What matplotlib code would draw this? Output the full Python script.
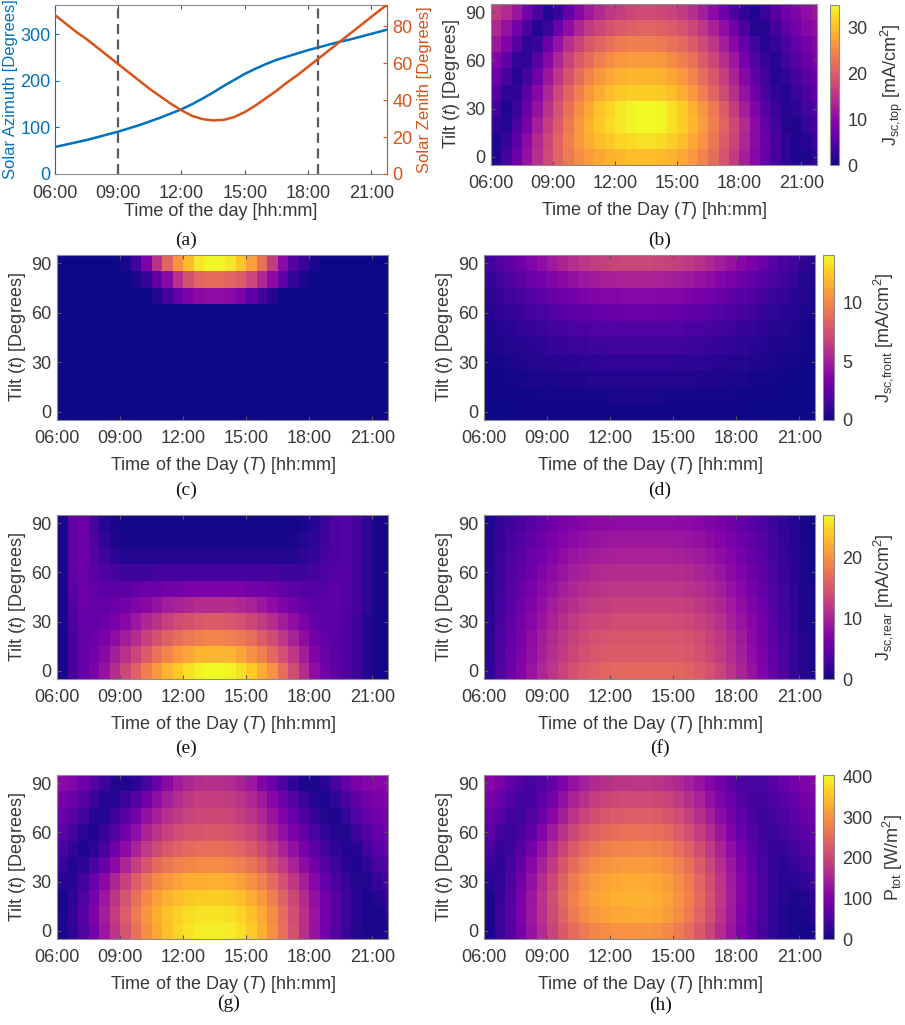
import numpy as np
import matplotlib
matplotlib.use("Agg")
import matplotlib.pyplot as plt

plt.rcParams['font.family'] = ['Liberation Sans', 'DejaVu Sans']
plt.rcParams['mathtext.fontset'] = 'custom'
plt.rcParams['mathtext.rm'] = 'Liberation Sans'
plt.rcParams['mathtext.it'] = 'Liberation Sans:italic'
plt.rcParams['mathtext.bf'] = 'Liberation Sans:bold'

# ---- panel (a): sun position ----
sun_hours = [6.0, 6.5, 7.0, 7.5, 8.0, 8.5, 9.0, 9.5, 10.0, 10.5, 11.0, 11.5,
             12.0, 12.5, 13.0, 13.5, 14.0, 14.5, 15.0, 15.5, 16.0, 16.5, 17.0,
             17.5, 18.0, 18.5, 19.0, 19.5, 20.0, 20.5, 21.0, 21.5, 21.75]
solar_azimuth = [58, 63, 68, 73, 79, 85, 91, 98, 105, 113, 121, 130, 139, 150,
                 162, 175, 189, 202, 215, 226, 236, 245, 252, 259, 266, 272,
                 278, 284, 289, 295, 301, 307, 310]
solar_zenith = [86, 81.5, 77, 73, 68.5, 64, 59.5, 55, 50.5, 46, 42, 38, 34.5,
                31.5, 29.7, 29, 29.3, 30.8, 33.5, 37, 41, 45, 49.5, 53.5, 58,
                62.5, 67, 71.5, 76, 80.5, 85, 89.5, 91.5]
marker_hours = [9.0, 18.47]

# ---- heat maps: 30 min columns, 10 degree tilt rows ----
time_centres = [6.25, 6.75, 7.25, 7.75, 8.25, 8.75, 9.25, 9.75, 10.25, 10.75,
                11.25, 11.75, 12.25, 12.75, 13.25, 13.75, 14.25, 14.75, 15.25,
                15.75, 16.25, 16.75, 17.25, 17.75, 18.25, 18.75, 19.25, 19.75,
                20.25, 20.75, 21.25, 21.75]
tilt_angles = [0, 10, 20, 30, 40, 50, 60, 70, 80, 90]
hour_ticks = [6, 9, 12, 15, 18, 21]
hour_labels = ['06:00', '09:00', '12:00', '15:00', '18:00', '21:00']
tilt_ticks = [0, 30, 60, 90]

jsc_top = [
    [1, 3.5, 7, 11, 14.5, 18, 21, 23.5, 25.5, 27, 28, 29, 29.5, 30, 30, 30, 29.5, 29, 28, 26.5, 24.5, 22, 19, 16, 12.5, 9.5, 6.5, 4, 2, 1, 1, 2],
    [1, 2.5, 6, 10, 14, 17.5, 21, 24, 26.5, 28.5, 30, 31, 32, 32.5, 33, 33, 32.5, 31.5, 30, 28, 26, 23, 20, 17, 13.5, 10, 7, 4, 2, 1, 1.5, 3],
    [2, 1.5, 4.5, 8.5, 12.5, 16.5, 20, 23.5, 26.5, 29, 31, 32.5, 33.5, 34.5, 35, 35, 34.5, 33, 31.5, 29.5, 27, 24, 21, 17.5, 14, 10, 6.5, 3.5, 1.5, 1, 2.5, 4],
    [3.5, 1, 3, 7, 11, 15, 19, 22.5, 25.5, 28, 30.5, 32, 33.5, 34.5, 35, 35, 34.5, 33, 31.5, 29, 26.5, 23.5, 20, 16.5, 12.5, 9, 5.5, 3, 1.5, 2, 3.5, 5],
    [5, 2, 2, 5.5, 9.5, 13.5, 17.5, 21, 24, 26.5, 28.5, 30, 31, 31.5, 31.5, 31.5, 31, 30, 28.5, 26.5, 24, 21, 18, 14.5, 11, 7.5, 4.5, 2, 1.5, 3, 4.5, 6],
    [7, 4, 1.5, 3.5, 7.5, 11.5, 15.5, 19, 22, 24.5, 26.5, 28, 29, 29.5, 29.5, 29.5, 29, 28, 26.5, 24.5, 22, 19.5, 16.5, 13, 9.5, 6, 3.5, 1.5, 2, 4, 5.5, 7],
    [9, 6, 2.5, 2, 5.5, 9.5, 13.5, 17, 20, 22, 24, 25.5, 26.5, 27, 27, 27, 26.5, 25.5, 24, 22.5, 20, 17.5, 14.5, 11.5, 8, 5, 2.5, 1.5, 3.5, 5.5, 7, 8.5],
    [11.5, 9, 5.5, 2, 3, 7, 11, 14.5, 17, 19.5, 21, 22.5, 23.5, 24, 24, 24, 23.5, 22.5, 21.5, 20, 18, 15.5, 12.5, 9.5, 6.5, 3.5, 1.5, 2.5, 4.5, 6.5, 8, 9.5],
    [13.5, 11, 8, 4.5, 1.5, 3, 7, 10.5, 13.5, 16, 17.5, 19, 20, 20.5, 21, 21, 20.5, 20, 19, 17.5, 15.5, 13, 10.5, 7.5, 4.5, 1.5, 1.5, 4, 6, 8, 9.5, 10.5],
    [16, 14, 11.5, 8, 4.5, 1.5, 3, 6.5, 9.5, 12, 14, 15.5, 16.5, 17.5, 18, 18, 17.5, 17, 16, 14.5, 12.5, 10, 7.5, 4.5, 2, 1, 3, 5.5, 7.5, 9, 10.5, 11.5],
]

jsc_front_c = [
    [0, 0, 0, 0, 0, 0, 0, 0, 0, 0, 0, 0, 0, 0, 0, 0, 0, 0, 0, 0, 0, 0, 0, 0, 0, 0, 0, 0, 0, 0, 0, 0],
    [0, 0, 0, 0, 0, 0, 0, 0, 0, 0, 0, 0, 0, 0, 0, 0, 0, 0, 0, 0, 0, 0, 0, 0, 0, 0, 0, 0, 0, 0, 0, 0],
    [0, 0, 0, 0, 0, 0, 0, 0, 0, 0, 0, 0, 0, 0, 0, 0, 0, 0, 0, 0, 0, 0, 0, 0, 0, 0, 0, 0, 0, 0, 0, 0],
    [0, 0, 0, 0, 0, 0, 0, 0, 0, 0, 0, 0, 0, 0, 0, 0, 0, 0, 0, 0, 0, 0, 0, 0, 0, 0, 0, 0, 0, 0, 0, 0],
    [0, 0, 0, 0, 0, 0, 0, 0, 0, 0, 0, 0, 0, 0, 0, 0, 0, 0, 0, 0, 0, 0, 0, 0, 0, 0, 0, 0, 0, 0, 0, 0],
    [0, 0, 0, 0, 0, 0, 0, 0, 0, 0, 0, 0, 0, 0, 0, 0, 0, 0, 0, 0, 0, 0, 0, 0, 0, 0, 0, 0, 0, 0, 0, 0],
    [0, 0, 0, 0, 0, 0, 0, 0, 0, 0, 0, 0, 0, 0, 0, 0, 0, 0, 0, 0, 0, 0, 0, 0, 0, 0, 0, 0, 0, 0, 0, 0],
    [0, 0, 0, 0, 0, 0, 0, 0, 0, 0.5, 1.5, 2.5, 3.5, 4, 4.2, 4.2, 4, 3.5, 2.5, 1.5, 0.5, 0, 0, 0, 0, 0, 0, 0, 0, 0, 0, 0],
    [0, 0, 0, 0, 0, 0, 0, 0.3, 1, 2.5, 4, 6, 7.5, 8.5, 8.8, 8.8, 8.5, 8, 7, 5.5, 4, 2.5, 1, 0.3, 0, 0, 0, 0, 0, 0, 0, 0],
    [0, 0, 0, 0, 0, 0, 0.3, 1.5, 3.5, 6, 8.5, 10.5, 12, 13.5, 14, 14, 13.5, 12.5, 11, 9, 6.5, 4, 2, 1, 0.3, 0, 0, 0, 0, 0, 0, 0],
]

jsc_front_d = [
    [0, 0, 0, 0.1, 0.1, 0.1, 0.1, 0.1, 0.1, 0.1, 0.1, 0.1, 0.1, 0.1, 0.1, 0.1, 0.1, 0.1, 0.1, 0.1, 0.1, 0.1, 0.1, 0.1, 0.1, 0.1, 0, 0, 0, 0, 0, 0],
    [0.1, 0.1, 0.1, 0.1, 0.1, 0.2, 0.2, 0.2, 0.2, 0.2, 0.2, 0.2, 0.3, 0.3, 0.3, 0.3, 0.3, 0.2, 0.2, 0.2, 0.2, 0.2, 0.2, 0.2, 0.1, 0.1, 0.1, 0.1, 0.1, 0, 0, 0],
    [0.1, 0.1, 0.2, 0.2, 0.3, 0.3, 0.3, 0.4, 0.4, 0.4, 0.5, 0.5, 0.5, 0.5, 0.5, 0.5, 0.5, 0.5, 0.5, 0.5, 0.4, 0.4, 0.4, 0.3, 0.3, 0.2, 0.2, 0.2, 0.1, 0.1, 0.1, 0],
    [0.2, 0.2, 0.3, 0.4, 0.5, 0.5, 0.6, 0.7, 0.7, 0.8, 0.8, 0.9, 0.9, 0.9, 0.9, 0.9, 0.9, 0.9, 0.8, 0.8, 0.8, 0.7, 0.6, 0.6, 0.5, 0.4, 0.4, 0.3, 0.2, 0.2, 0.1, 0.1],
    [0.3, 0.4, 0.5, 0.6, 0.7, 0.8, 1, 1.1, 1.2, 1.2, 1.3, 1.3, 1.4, 1.4, 1.4, 1.4, 1.4, 1.4, 1.3, 1.3, 1.2, 1.1, 1, 0.9, 0.8, 0.7, 0.6, 0.4, 0.4, 0.3, 0.2, 0.1],
    [0.4, 0.5, 0.7, 0.9, 1, 1.2, 1.4, 1.5, 1.7, 1.8, 1.9, 1.9, 2, 2, 2, 2, 2, 1.9, 1.9, 1.8, 1.7, 1.6, 1.4, 1.3, 1.1, 1, 0.8, 0.6, 0.5, 0.4, 0.2, 0.2],
    [0.6, 0.8, 1, 1.2, 1.5, 1.7, 1.9, 2.1, 2.3, 2.5, 2.6, 2.7, 2.7, 2.8, 2.8, 2.8, 2.8, 2.7, 2.6, 2.5, 2.4, 2.2, 2, 1.8, 1.6, 1.3, 1.1, 0.9, 0.7, 0.5, 0.3, 0.2],
    [0.8, 1.1, 1.4, 1.7, 2, 2.3, 2.7, 3, 3.2, 3.4, 3.6, 3.7, 3.8, 3.9, 3.9, 3.9, 3.9, 3.8, 3.7, 3.5, 3.3, 3.1, 2.8, 2.5, 2.2, 1.9, 1.6, 1.2, 1, 0.7, 0.5, 0.3],
    [1.1, 1.4, 1.9, 2.3, 2.8, 3.2, 3.6, 4, 4.4, 4.7, 4.9, 5.1, 5.2, 5.3, 5.3, 5.3, 5.2, 5.1, 5, 4.8, 4.5, 4.2, 3.8, 3.4, 3, 2.5, 2.1, 1.7, 1.3, 1, 0.6, 0.4],
    [1.4, 1.9, 2.5, 3, 3.6, 4.2, 4.8, 5.3, 5.8, 6.2, 6.5, 6.7, 6.9, 7, 7, 7, 6.9, 6.8, 6.6, 6.3, 6, 5.5, 5, 4.5, 3.9, 3.4, 2.8, 2.2, 1.8, 1.3, 0.8, 0.6],
]

jsc_rear_e = [
    [0.5, 3, 5, 6.5, 8.5, 11, 13.5, 16, 18.5, 20.5, 22.5, 24, 25.5, 26.5, 27, 27, 26.5, 25.5, 24, 22, 20, 17, 14, 11, 8, 6, 4.5, 3.5, 2.5, 1, 0.5, 0.3],
    [0.5, 3, 5, 6, 7.5, 9.5, 11.5, 13.5, 15.5, 17.5, 19, 20.5, 21.5, 22.5, 22.5, 22.5, 22.5, 21.5, 20, 18.5, 16.5, 14.5, 12, 9.5, 7, 5.5, 4.5, 3.5, 2.5, 1, 0.5, 0.3],
    [0.5, 3, 5, 5.5, 6.5, 8, 9.5, 11, 13, 14.5, 16, 17, 18, 18.5, 19, 19, 18.5, 18, 17, 15.5, 14, 12, 10, 8, 6, 5, 4.5, 3.5, 2.5, 1, 0.5, 0.3],
    [0.5, 3.5, 5, 5, 5.5, 6.5, 7.5, 9, 10.5, 11.5, 13, 14, 14.5, 15, 15.5, 15.5, 15, 14.5, 13.5, 12.5, 11, 9.5, 8, 6.5, 5, 4.5, 4.5, 3.5, 2.5, 1, 0.5, 0.3],
    [0.5, 4, 5.5, 5, 5, 5.5, 6, 7, 7.5, 8.5, 9.5, 10, 10.5, 11, 11, 11, 11, 10.5, 10, 9, 8, 7, 6, 5, 4.5, 4.5, 4.5, 4, 3, 1.5, 0.5, 0.3],
    [0.5, 4.5, 5.5, 5, 4.5, 4.5, 4.5, 5, 5.5, 5.5, 6, 6, 6.5, 6.5, 6.5, 6.5, 6.5, 6.5, 6, 6, 5.5, 5, 4.5, 4, 4, 4, 4.5, 4, 3, 1.5, 0.5, 0.3],
    [0.5, 5, 5.5, 4.5, 3.5, 3, 2.5, 2.5, 2.5, 3, 3, 3, 3, 3, 3, 3, 3, 3, 3, 3, 3, 2.5, 2.5, 2.5, 3, 3.5, 4, 4, 3, 1.5, 0.5, 0.3],
    [0.5, 5, 5.5, 4, 2.5, 1.5, 1, 1, 1, 1, 1, 1, 1, 1, 1, 1, 1, 1, 1, 1, 1, 1, 1, 1.5, 2, 3, 3.5, 4, 3, 1.5, 0.5, 0.3],
    [0.5, 5, 5.5, 3.5, 1.5, 0.8, 0.5, 0.4, 0.4, 0.4, 0.4, 0.4, 0.4, 0.4, 0.4, 0.4, 0.4, 0.4, 0.4, 0.4, 0.4, 0.5, 0.6, 1, 1.5, 2.5, 3.5, 4, 3, 1.5, 0.5, 0.3],
    [0.5, 5, 5.5, 3, 1, 0.5, 0.3, 0.3, 0.3, 0.3, 0.3, 0.3, 0.3, 0.3, 0.3, 0.3, 0.3, 0.3, 0.3, 0.3, 0.3, 0.3, 0.4, 0.7, 1.2, 2.2, 3.5, 4, 3, 1.5, 0.5, 0.3],
]

jsc_rear_f = [
    [1.7, 3.6, 5.4, 7.1, 8.7, 10.4, 11.9, 13.2, 14.4, 15.2, 15.8, 16.2, 16.5, 16.5, 16.5, 16.5, 16.5, 16.5, 16.4, 16, 15.3, 14.4, 13.2, 11.7, 10.2, 8.6, 6.9, 5.1, 3.5, 2, 1, 0.5],
    [1.6, 3.4, 5.1, 6.7, 8.2, 9.8, 11.2, 12.4, 13.5, 14.3, 14.9, 15.2, 15.5, 15.5, 15.5, 15.5, 15.5, 15.5, 15.4, 15, 14.4, 13.5, 12.4, 11, 9.6, 8.1, 6.5, 4.8, 3.3, 1.9, 0.9, 0.5],
    [1.5, 3.3, 5, 6.5, 8, 9.5, 10.8, 12, 13, 13.8, 14.4, 14.7, 15, 15, 15, 15, 15, 15, 14.9, 14.6, 14, 13, 12, 10.7, 9.3, 7.8, 6.3, 4.7, 3.2, 1.8, 0.9, 0.5],
    [1.4, 3.1, 4.6, 6, 7.4, 8.8, 10.1, 11.2, 12.2, 12.9, 13.4, 13.7, 14, 14, 14, 14, 14, 14, 13.9, 13.6, 13, 12.2, 11.2, 9.9, 8.7, 7.3, 5.9, 4.3, 2.9, 1.7, 0.8, 0.4],
    [1.3, 2.9, 4.3, 5.6, 6.9, 8.2, 9.4, 10.4, 11.3, 12, 12.5, 12.7, 13, 13, 13, 13, 13, 13, 12.9, 12.6, 12.1, 11.3, 10.4, 9.2, 8.1, 6.8, 5.5, 4, 2.7, 1.6, 0.8, 0.4],
    [1.2, 2.6, 4, 5.2, 6.4, 7.6, 8.6, 9.6, 10.4, 11, 11.5, 11.8, 12, 12, 12, 12, 12, 12, 11.9, 11.6, 11.2, 10.4, 9.6, 8.5, 7.4, 6.2, 5, 3.7, 2.5, 1.4, 0.7, 0.4],
    [1.1, 2.4, 3.6, 4.7, 5.8, 6.9, 7.9, 8.8, 9.6, 10.1, 10.6, 10.8, 11, 11, 11, 11, 11, 11, 10.9, 10.7, 10.2, 9.6, 8.8, 7.8, 6.8, 5.7, 4.6, 3.4, 2.3, 1.3, 0.7, 0.3],
    [1, 2.2, 3.3, 4.3, 5.3, 6.3, 7.2, 8, 8.7, 9.2, 9.6, 9.8, 10, 10, 10, 10, 10, 10, 9.9, 9.7, 9.3, 8.7, 8, 7.1, 6.2, 5.2, 4.2, 3.1, 2.1, 1.2, 0.6, 0.3],
    [0.9, 2, 3, 3.9, 4.8, 5.7, 6.5, 7.2, 7.8, 8.3, 8.6, 8.8, 9, 9, 9, 9, 9, 9, 8.9, 8.7, 8.4, 7.8, 7.2, 6.4, 5.6, 4.7, 3.8, 2.8, 1.9, 1.1, 0.5, 0.3],
    [0.8, 1.8, 2.6, 3.4, 4.2, 5, 5.8, 6.4, 7, 7.4, 7.7, 7.8, 8, 8, 8, 8, 8, 8, 7.9, 7.8, 7.4, 7, 6.4, 5.7, 5, 4.2, 3.4, 2.5, 1.7, 1, 0.5, 0.2],
]

p_tot_g = [
    [8, 25, 55, 92, 135, 178, 220, 260, 295, 325, 350, 370, 384, 392, 396, 396, 391, 380, 360, 332, 298, 258, 215, 170, 128, 90, 58, 33, 16, 8, 8, 12],
    [8, 30, 62, 100, 145, 190, 232, 270, 303, 330, 351, 366, 376, 382, 385, 385, 380, 369, 350, 324, 292, 254, 213, 170, 130, 94, 63, 38, 20, 10, 10, 18],
    [6, 25, 55, 92, 135, 178, 220, 258, 290, 315, 334, 348, 356, 361, 363, 363, 358, 347, 329, 305, 275, 240, 202, 163, 126, 91, 61, 37, 19, 10, 16, 28],
    [15, 18, 45, 78, 115, 155, 195, 232, 263, 288, 306, 319, 327, 331, 332, 332, 327, 316, 299, 276, 248, 215, 180, 144, 110, 78, 51, 30, 15, 14, 30, 45],
    [32, 14, 25, 50, 82, 118, 155, 190, 222, 248, 266, 279, 287, 291, 292, 292, 287, 277, 261, 239, 213, 183, 151, 118, 88, 61, 38, 20, 12, 25, 45, 60],
    [50, 28, 12, 25, 52, 85, 118, 152, 183, 208, 227, 241, 250, 255, 257, 257, 252, 242, 226, 205, 180, 152, 122, 94, 67, 43, 24, 12, 20, 42, 62, 75],
    [65, 45, 22, 12, 30, 58, 88, 120, 150, 175, 195, 210, 219, 224, 226, 226, 221, 211, 196, 176, 152, 125, 98, 72, 48, 27, 13, 15, 35, 58, 75, 85],
    [80, 62, 40, 18, 15, 35, 62, 92, 122, 148, 170, 186, 197, 203, 205, 205, 200, 190, 175, 155, 130, 104, 78, 52, 30, 14, 12, 30, 55, 75, 88, 95],
    [95, 80, 60, 35, 15, 15, 35, 60, 90, 120, 145, 165, 180, 188, 190, 190, 185, 175, 158, 138, 112, 85, 58, 32, 14, 10, 25, 50, 72, 88, 98, 102],
    [115, 105, 85, 60, 35, 15, 12, 18, 45, 80, 115, 140, 155, 165, 168, 168, 162, 150, 135, 105, 80, 50, 25, 10, 8, 18, 45, 75, 95, 105, 112, 115],
]

p_tot_h = [
    [10, 32, 60, 93, 128, 163, 196, 226, 251, 271, 285, 294, 300, 302, 303, 303, 299, 289, 273, 252, 226, 196, 164, 130, 98, 70, 46, 27, 13, 7, 6, 8],
    [10, 32, 62, 97, 135, 172, 208, 241, 270, 292, 307, 317, 323, 326, 327, 327, 322, 311, 294, 271, 243, 210, 175, 139, 105, 75, 49, 28, 14, 8, 9, 15],
    [10, 30, 60, 95, 134, 173, 211, 247, 278, 301, 317, 326, 332, 335, 336, 336, 331, 320, 302, 279, 250, 216, 180, 143, 108, 77, 50, 29, 15, 10, 16, 25],
    [18, 28, 55, 88, 126, 165, 203, 239, 270, 293, 309, 318, 324, 327, 328, 328, 323, 312, 295, 272, 244, 211, 176, 140, 106, 76, 50, 30, 18, 18, 28, 38],
    [32, 25, 45, 75, 110, 148, 185, 221, 252, 275, 291, 301, 307, 310, 311, 311, 306, 296, 280, 258, 231, 200, 167, 133, 100, 72, 48, 30, 22, 30, 42, 52],
    [48, 30, 35, 60, 92, 127, 163, 198, 228, 251, 266, 276, 282, 285, 286, 286, 282, 272, 257, 237, 212, 183, 152, 120, 90, 64, 43, 30, 30, 42, 54, 64],
    [65, 45, 32, 45, 72, 104, 138, 172, 202, 225, 240, 250, 256, 259, 260, 260, 256, 247, 233, 214, 190, 163, 134, 105, 78, 55, 38, 32, 40, 54, 66, 75],
    [80, 62, 42, 38, 55, 82, 112, 145, 175, 198, 214, 224, 230, 233, 234, 234, 230, 222, 209, 192, 170, 145, 118, 92, 68, 48, 38, 40, 52, 66, 78, 86],
    [95, 78, 58, 42, 45, 65, 92, 122, 150, 172, 188, 198, 204, 207, 208, 208, 204, 197, 185, 169, 149, 126, 102, 80, 60, 46, 42, 50, 64, 78, 90, 97],
    [110, 95, 75, 55, 45, 55, 75, 100, 125, 145, 160, 170, 174, 176, 177, 177, 174, 168, 158, 145, 128, 108, 88, 68, 52, 45, 50, 62, 78, 92, 102, 108],
]

blue = '#0072BD'
orange = '#D95319'
box_color = '#8c8c8c'
text_color = '#383838'
fs = 13

fig = plt.figure(figsize=(9.05, 10.25), dpi=100)
W, H = 905.0, 1025.0


def rect(left, top, right, bottom):
    return [left / W, 1 - bottom / H, (right - left) / W, (bottom - top) / H]


def styleAxes(ax, xpad=7):
    for side in ['top', 'bottom', 'left', 'right']:
        ax.spines[side].set_color(box_color)
        ax.spines[side].set_linewidth(0.8)
    ax.tick_params(direction='in', length=3, width=0.8, color='#555555',
                   labelcolor=text_color, labelsize=fs, top=True, right=True)
    ax.tick_params(axis='x', pad=xpad)
    ax.tick_params(axis='y', pad=4)


def drawHeatmap(box, grid, vmax):
    ax = fig.add_axes(rect(*box))
    mesh = ax.pcolormesh(time_centres, tilt_angles, np.array(grid), cmap='plasma',
                         vmin=0, vmax=vmax, shading='nearest')
    ax.set_xlim(6, 21.75)
    ax.set_ylim(-5, 95)
    ax.set_xticks(hour_ticks)
    ax.set_xticklabels(hour_labels)
    ax.set_yticks(tilt_ticks)
    styleAxes(ax)
    ax.set_xlabel(r'Time of the Day ($T$) [hh:mm]', fontsize=fs, color=text_color, labelpad=6)
    ax.set_ylabel(r'Tilt ($t$) [Degrees]', fontsize=fs, color=text_color, labelpad=2)
    return mesh


def drawColorbar(box, mesh, ticks, label, pad=6):
    cax = fig.add_axes(rect(*box))
    cb = fig.colorbar(mesh, cax=cax)
    cb.set_ticks(ticks)
    cb.outline.set_edgecolor(box_color)
    cb.outline.set_linewidth(0.8)
    cax.tick_params(direction='in', length=0, labelsize=fs, labelcolor=text_color, pad=6)
    cax.set_ylabel(label, fontsize=fs, color=text_color, labelpad=pad)


# (a)
ax = fig.add_axes(rect(55, 5, 387, 174))
ax.plot(sun_hours, solar_azimuth, color=blue, linewidth=1.8)
for h in marker_hours:
    ax.axvline(h, color='#5a5a5a', linestyle=(0, (4.5, 2.5)), linewidth=1.6)
ax.set_xlim(6, 21.75)
ax.set_ylim(0, 363)
ax.set_yticks([0, 100, 200, 300])
ax.set_xticks(hour_ticks)
ax.set_xticklabels(hour_labels)
styleAxes(ax, xpad=8)
ax.tick_params(axis='y', colors=blue, labelcolor=blue, right=False, pad=3)
ax.spines['left'].set_color(blue)
ax.set_ylabel('Solar Azimuth [Degrees]', fontsize=12, color=blue, labelpad=2)
ax.set_xlabel('Time of the day [hh:mm]', fontsize=fs, color=text_color, labelpad=1)
ax2 = ax.twinx()
ax2.plot(sun_hours, solar_zenith, color=orange, linewidth=1.8)
ax2.set_ylim(0, 91.5)
ax2.set_yticks([0, 20, 40, 60, 80])
for side in ['top', 'bottom', 'left']:
    ax2.spines[side].set_visible(False)
ax2.spines['right'].set_color(orange)
ax2.spines['right'].set_linewidth(0.8)
ax2.tick_params(direction='in', length=3, width=0.8, colors=orange, labelcolor=orange,
                labelsize=fs, pad=4)
ax2.set_ylabel('Solar Zenith [Degrees]', fontsize=12, color=orange, labelpad=3)

# (b)
mesh = drawHeatmap((491, 4, 817, 165), jsc_top, 35)
drawColorbar((830, 5, 839, 165), mesh, [0, 10, 20, 30], r'J$_{\rm sc{,}top}$ [mA/cm$^2$]', pad=8)

# (c), (d)
drawHeatmap((57, 255, 388, 420), jsc_front_c, 14.1)
mesh = drawHeatmap((484, 255, 815, 420), jsc_front_d, 14.1)
drawColorbar((823, 255, 834, 420), mesh, [0, 5, 10], r'J$_{\rm sc{,}front}$ [mA/cm$^2$]')

# (e), (f)
drawHeatmap((57, 515, 388, 679), jsc_rear_e, 27)
mesh = drawHeatmap((484, 515, 815, 679), jsc_rear_f, 27)
drawColorbar((823, 515, 834, 679), mesh, [0, 10, 20], r'J$_{\rm sc{,}rear}$ [mA/cm$^2$]')

# (g), (h)
drawHeatmap((57, 775, 388, 939), p_tot_g, 404)
mesh = drawHeatmap((484, 775, 815, 939), p_tot_h, 404)
drawColorbar((823, 775, 834, 939), mesh, [0, 100, 200, 300, 400], r'P$_{\rm tot}$ [W/m$^2$]')

captions = ['(a)', '(b)', '(c)', '(d)', '(e)', '(f)', '(g)', '(h)']
caption_xy = [(186, 240), (660, 240), (186, 490), (660, 490),
              (186, 748), (660, 748), (229, 1003), (661, 1005)]
for cap, (cx, cy) in zip(captions, caption_xy):
    fig.text(cx / W, 1 - cy / H, cap, family='Liberation Serif', fontsize=14,
             ha='center', va='center', color='#111111')

fig.savefig('out.png', dpi=100)
